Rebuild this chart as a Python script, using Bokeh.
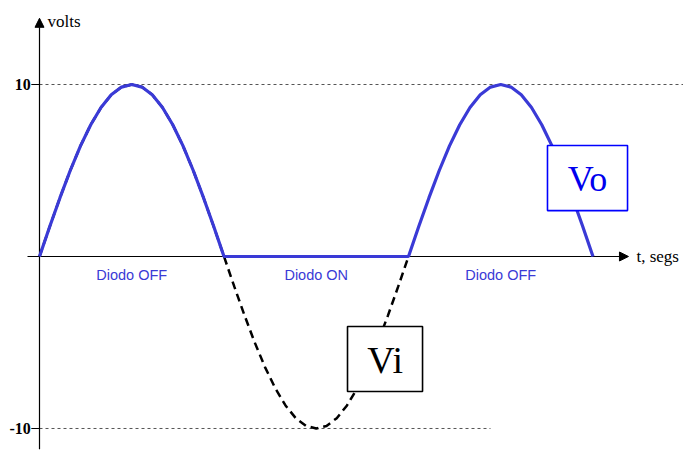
from bokeh.plotting import figure
from bokeh.models import Arrow, NormalHead
from bokeh.core.properties import value
from bokeh.embed import file_html
from bokeh.resources import INLINE

# ---- data (phase in degrees, volts) ----
vi_t = [0, 10, 20, 30, 40, 50, 60, 70, 80, 90, 100, 110, 120, 130, 140, 150, 160, 170, 180,
        190, 200, 210, 220, 230, 240, 250, 260, 270, 280, 290, 300, 310, 320, 330, 340, 350, 360]
vi_v = [0, 1.74, 3.42, 5.0, 6.43, 7.66, 8.66, 9.4, 9.85, 10, 9.85, 9.4, 8.66, 7.66, 6.43, 5.0, 3.42, 1.74, 0,
        -1.74, -3.42, -5.0, -6.43, -7.66, -8.66, -9.4, -9.85, -10, -9.85, -9.4, -8.66, -7.66, -6.43, -5.0,
        -3.42, -1.74, 0]
vo_t = [0, 10, 20, 30, 40, 50, 60, 70, 80, 90, 100, 110, 120, 130, 140, 150, 160, 170, 180,
        360, 370, 380, 390, 400, 410, 420, 430, 440, 450, 460, 470, 480, 490, 500, 510, 520, 530, 540]
vo_v = [0, 1.74, 3.42, 5.0, 6.43, 7.66, 8.66, 9.4, 9.85, 10, 9.85, 9.4, 8.66, 7.66, 6.43, 5.0, 3.42, 1.74, 0,
        0, 1.74, 3.42, 5.0, 6.43, 7.66, 8.66, 9.4, 9.85, 10, 9.85, 9.4, 8.66, 7.66, 6.43, 5.0, 3.42, 1.74, 0]
ytick_vals = [10, -10]
ytick_labels = ["10", "-10"]
ref_end = [628, 440]
region_x = [90, 270, 450]
region_labels = ["Diodo OFF", "Diodo ON", "Diodo OFF"]

BLUE = "#3a3ad6"

p = figure(width=683, height=455, output_backend="svg", toolbar_location=None,
           x_range=(-38.05, 628.3), y_range=(-11.57, 14.884),
           x_axis_location=None, y_axis_location=None, min_border=0)
p.outline_line_color = None
p.xgrid.visible = False
p.ygrid.visible = False
p.background_fill_color = "white"
p.border_fill_color = "white"

# dotted reference lines at +/-10
p.segment(x0=[0, 0], y0=ytick_vals, x1=ref_end, y1=ytick_vals,
          line_color="#555555", line_width=1, line_dash="3 3")
# tick marks
p.segment(x0=[-8, -8], y0=ytick_vals, x1=[0, 0], y1=ytick_vals,
          line_color="black", line_width=1.2)
p.text(x=[-8.5, -8.5], y=ytick_vals, text=ytick_labels,
       text_font=value("Liberation Serif"), text_font_style="bold",
       text_font_size="16px", text_align="right", text_baseline="middle",
       text_color="black")

# axis lines (drawn under the curves)
p.segment(x0=[-11.7, 0], y0=[0, -11.2], x1=[566, 0], y1=[0, 13.0],
          line_color="black", line_width=1.2)
# arrow heads
p.add_layout(Arrow(end=NormalHead(size=9, fill_color="black", line_color="black"),
                   x_start=565, y_start=0, x_end=574.6, y_end=0,
                   line_color="black", line_width=1.2))
p.add_layout(Arrow(end=NormalHead(size=9, fill_color="black", line_color="black"),
                   x_start=0, y_start=13.0, x_end=0, y_end=13.85,
                   line_color="black", line_width=1.2))
p.text(x=[7.8], y=[13.65], text=["volts"], text_font=value("Liberation Serif"),
       text_font_size="17px", text_align="left", text_baseline="alphabetic",
       text_color="black")
p.text(x=[582.4], y=[0], text=["t, segs"], text_font=value("Liberation Serif"),
       text_font_size="17px", text_align="left", text_baseline="middle",
       text_color="black")

# curves
p.line(vi_t, vi_v, line_color="black", line_width=2.5, line_dash="8 5")
p.line(vo_t, vo_v, line_color=BLUE, line_width=3.2)

# region labels
p.text(x=region_x, y=[-1.1] * 3, text=region_labels,
       text_font=value("Liberation Sans"), text_font_size="14.5px",
       text_align="center", text_baseline="middle", text_color=BLUE)

# label boxes
p.quad(left=[300.5], right=[373.7], top=[-4.07], bottom=[-7.85],
       fill_color="white", line_color="black", line_width=1.6)
p.text(x=[337.3], y=[-6.0], text=["Vi"], text_font=value("Liberation Serif"),
       text_font_size="38px", text_align="center", text_baseline="middle",
       text_color="black")
p.quad(left=[495.6], right=[573.7], top=[6.45], bottom=[2.67],
       fill_color="white", line_color="#0000ff", line_width=1.6)
p.text(x=[534.6], y=[4.5], text=["Vo"], text_font=value("Liberation Serif"),
       text_font_size="36px", text_align="center", text_baseline="middle",
       text_color="#0000ee")

open("out.html", "w").write(file_html(p, INLINE))
